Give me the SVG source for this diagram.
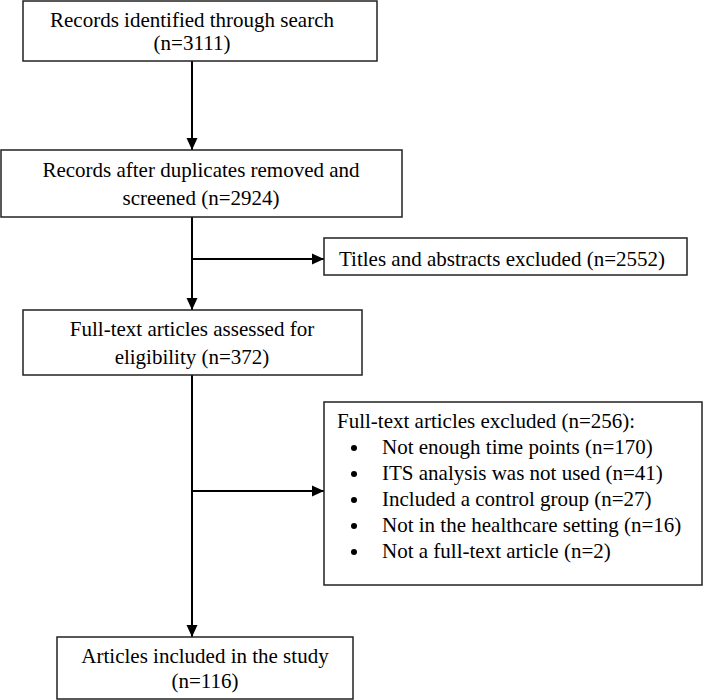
<svg xmlns="http://www.w3.org/2000/svg" width="709" height="700" viewBox="0 0 709 700">
<defs>
<style>
.box{fill:#fff;stroke:#222;stroke-width:1.5}
.t{font-family:"Liberation Serif","Times New Roman",serif;font-size:21px;fill:#000}
.c{text-anchor:middle}
.ln{fill:none;stroke:#000;stroke-width:2}
</style>
<marker id="ah" markerWidth="12" markerHeight="12" viewBox="0 0 12 12" refX="12" refY="6" orient="auto" markerUnits="userSpaceOnUse">
<path d="M0,0.5 L12,6 L0,11.5 Z" fill="#000"/>
</marker>
</defs>
<rect width="709" height="700" fill="#fff"/>
<g id="connectors">
<line class="ln" x1="192" y1="61" x2="192" y2="150" marker-end="url(#ah)"/>
<line class="ln" x1="192" y1="217" x2="192" y2="310" marker-end="url(#ah)"/>
<line class="ln" x1="192" y1="259" x2="324" y2="259" marker-end="url(#ah)"/>
<line class="ln" x1="192" y1="375" x2="192" y2="637" marker-end="url(#ah)"/>
<line class="ln" x1="192" y1="491" x2="324" y2="491" marker-end="url(#ah)"/>
</g>
<g id="identified">
<rect class="box" x="23" y="1" width="354" height="60"/>
<text class="t c" x="192" y="27">Records identified through search</text>
<text class="t c" x="192" y="50">(n=3111)</text>
</g>
<g id="screened">
<rect class="box" x="1" y="150" width="401" height="67"/>
<text class="t c" x="201" y="177">Records after duplicates removed and</text>
<text class="t c" x="201" y="205">screened (n=2924)</text>
</g>
<g id="titles-excluded">
<rect class="box" x="324" y="238" width="363" height="37"/>
<text class="t" x="339" y="266">Titles and abstracts excluded (n=2552)</text>
</g>
<g id="fulltext-assessed">
<rect class="box" x="23" y="310" width="339" height="65"/>
<text class="t c" x="192" y="336">Full-text articles assessed for</text>
<text class="t c" x="192" y="364">eligibility (n=372)</text>
</g>
<g id="fulltext-excluded">
<rect class="box" x="324" y="402" width="378" height="183"/>
<text class="t" x="337" y="428">Full-text articles excluded (n=256):</text>
<circle cx="354" cy="448" r="3" fill="#000"/>
<circle cx="354" cy="474" r="3" fill="#000"/>
<circle cx="354" cy="500" r="3" fill="#000"/>
<circle cx="354" cy="526" r="3" fill="#000"/>
<circle cx="354" cy="552" r="3" fill="#000"/>
<text class="t" x="382" y="454">Not enough time points (n=170)</text>
<text class="t" x="382" y="480">ITS analysis was not used (n=41)</text>
<text class="t" x="382" y="506">Included a control group (n=27)</text>
<text class="t" x="382" y="532">Not in the healthcare setting (n=16)</text>
<text class="t" x="382" y="558">Not a full-text article (n=2)</text>
</g>
<g id="included">
<rect class="box" x="57" y="637" width="296" height="62"/>
<text class="t c" x="205" y="663">Articles included in the study</text>
<text class="t c" x="205" y="688">(n=116)</text>
</g>
</svg>
